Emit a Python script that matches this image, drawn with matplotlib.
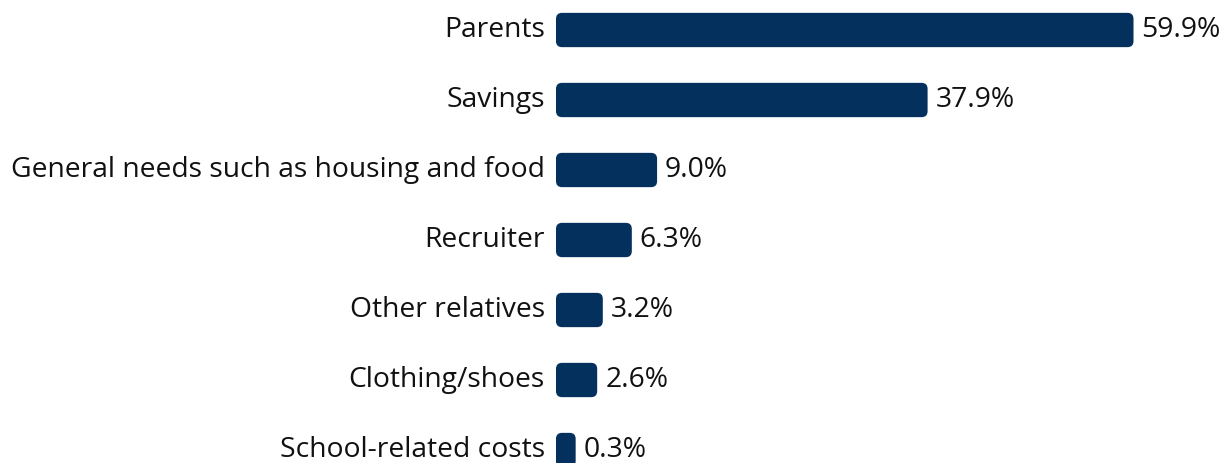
import matplotlib
matplotlib.use("Agg")
import matplotlib.pyplot as plt
from matplotlib.patches import FancyBboxPatch

categories = [
    "Parents",
    "Savings",
    "General needs such as housing and food",
    "Recruiter",
    "Other relatives",
    "Clothing/shoes",
    "School-related costs",
]
values = [59.9, 37.9, 9.0, 6.3, 3.2, 2.6, 0.3]
value_labels = ["59.9%", "37.9%", "9.0%", "6.3%", "3.2%", "2.6%", "0.3%"]

BAR_COLOR = "#03305c"
W, H, DPI = 1227, 463, 100
PX_PER_UNIT = 9.36      # horizontal scale, pixels per percent
CAP = 1.8               # rounded cap added before zero, in percent units
ROW_PX = 70
TOP_PX = 30
LEFT_PX = 556

plt.rcParams["font.family"] = ["Open Sans", "DejaVu Sans"]

fig = plt.figure(figsize=(W / DPI, H / DPI), dpi=DPI)
ax = fig.add_axes([LEFT_PX / W, 0, 1 - LEFT_PX / W, 1])
x0 = -CAP
x1 = x0 + (W - LEFT_PX) / PX_PER_UNIT
ax.set_xlim(x0, x1)
ax.set_ylim((H - TOP_PX) / ROW_PX, -TOP_PX / ROW_PX)
ax.axis("off")

bar_h = 0.49
bars = ax.barh(range(len(values)), [v + CAP for v in values], left=-CAP,
               height=bar_h, color="none")

# aspect: data units per pixel in y over x
aspect = (1 / ROW_PX) / (1 / PX_PER_UNIT)
radius = 6 / PX_PER_UNIT
for b, lab, txt in zip(bars, categories, value_labels):
    x, y = b.get_x(), b.get_y()
    w, h = b.get_width(), b.get_height()
    r = min(radius, w / 2)
    ax.add_patch(FancyBboxPatch((x, y), w, h,
                                boxstyle=f"round,pad=0,rounding_size={r}",
                                mutation_aspect=aspect,
                                facecolor=BAR_COLOR, edgecolor="none",
                                clip_on=False))
    yc = y + h / 2
    ax.text(x - 11 / PX_PER_UNIT, yc, lab, ha="right", va="center",
            fontsize=20.3, color="#111111", clip_on=False)
    ax.text(x + w + 8 / PX_PER_UNIT, yc, txt, ha="left", va="center",
            fontsize=20.3, color="#111111", clip_on=False)

fig.savefig("out.png", dpi=DPI)
